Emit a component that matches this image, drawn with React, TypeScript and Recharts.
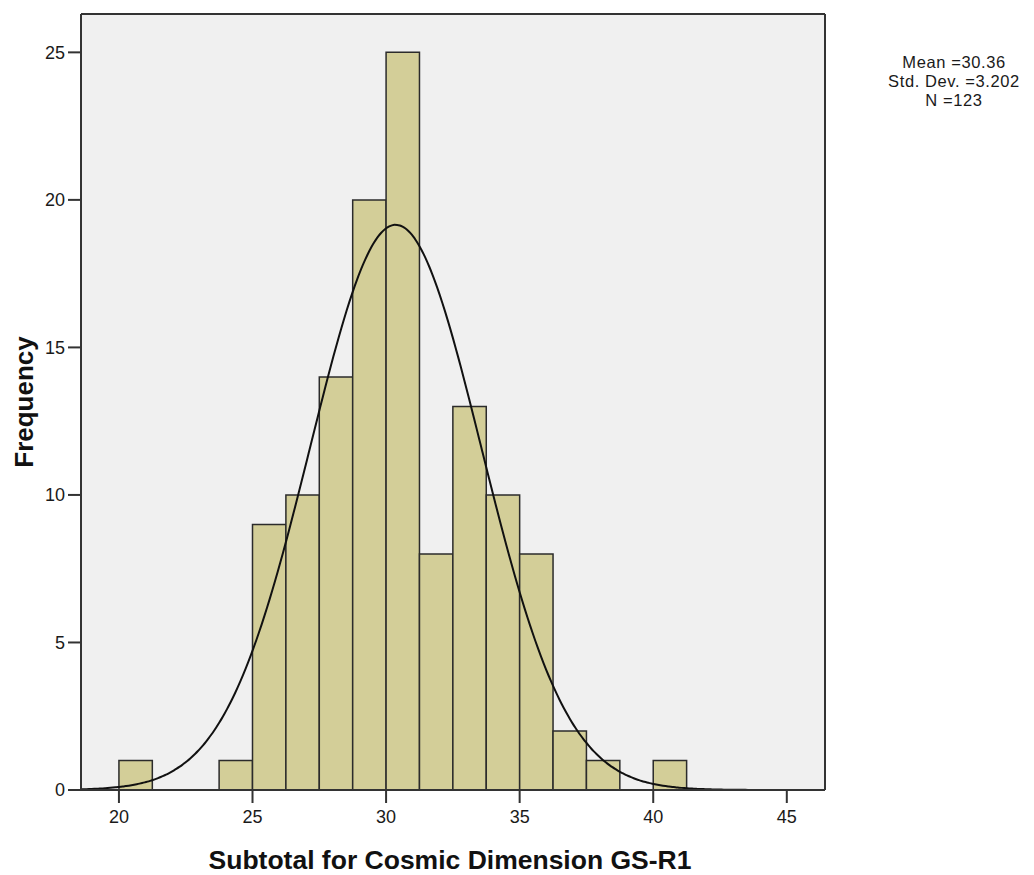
import React from 'react';
import { ComposedChart, Line, XAxis, YAxis, CartesianGrid, ReferenceArea, ReferenceLine } from 'recharts';

// Histogram bins: lower edge of each non-empty bin and its count
const binStarts = [20, 23.75, 25, 26.25, 27.5, 28.75, 30, 31.25, 32.5, 33.75, 35, 36.25, 37.5, 40];
const binCounts = [1, 1, 9, 10, 14, 20, 25, 8, 13, 10, 8, 2, 1, 1];
const BIN_WIDTH = 1.25;

// Axis ticks
const xTicks = [20, 25, 30, 35, 40, 45];
const yTicks = [0, 5, 10, 15, 20, 25];

// Summary statistics shown in the legend (also define the fitted normal curve)
const MEAN = 30.36;
const STD_DEV = 3.202;
const N = 123;

const X_DOMAIN: [number, number] = [18.58, 46.43];
const Y_DOMAIN: [number, number] = [0, 26.3];

const FONT = '"Liberation Sans", Arial, sans-serif';
const FRAME = '#333333';

// Normal density scaled to counts per bin, sampled across the x range
const curveData: { x: number; y: number }[] = [];
for (let i = 0; i <= 280; i++) {
  const x = X_DOMAIN[0] + ((X_DOMAIN[1] - X_DOMAIN[0]) * i) / 280;
  const z = (x - MEAN) / STD_DEV;
  const y = (N * BIN_WIDTH * Math.exp(-0.5 * z * z)) / (STD_DEV * Math.sqrt(2 * Math.PI));
  curveData.push({ x, y });
}

export default function App() {
  return (
    <div style={{ position: 'absolute', left: 0, top: 0, width: 1034, height: 875, background: '#ffffff' }}>
      <ComposedChart
        width={1034}
        height={875}
        data={curveData}
        margin={{ top: 14, right: 209, bottom: 45, left: 0 }}
      >
        <CartesianGrid fill="#F0F0F0" horizontal={false} vertical={false} />
        <XAxis
          dataKey="x"
          type="number"
          domain={X_DOMAIN}
          ticks={xTicks}
          allowDataOverflow
          height={40}
          tickSize={13}
          tickMargin={7}
          axisLine={{ stroke: FRAME, strokeWidth: 2 }}
          tickLine={{ stroke: FRAME, strokeWidth: 2 }}
          tick={{ fill: '#1a1a1a', fontSize: 18, fontFamily: FONT }}
          label={{
            value: 'Subtotal for Cosmic Dimension GS-R1',
            position: 'bottom',
            offset: 20,
            dx: -3,
            style: { fontSize: 26.5, fontWeight: 700, fontFamily: FONT, fill: '#111' },
          }}
        />
        <YAxis
          type="number"
          domain={Y_DOMAIN}
          ticks={yTicks}
          allowDataOverflow
          width={81}
          tickSize={13}
          tickMargin={3}
          axisLine={{ stroke: FRAME, strokeWidth: 2 }}
          tickLine={{ stroke: FRAME, strokeWidth: 2 }}
          tick={{ fill: '#1a1a1a', fontSize: 18, fontFamily: FONT }}
          label={{
            value: 'Frequency',
            angle: -90,
            position: 'insideLeft',
            offset: 24,
            style: { textAnchor: 'middle', fontSize: 26, fontWeight: 700, fontFamily: FONT, fill: '#111' },
          }}
        />
        {/* top and right edges of the plot frame */}
        <ReferenceLine y={Y_DOMAIN[1]} stroke={FRAME} strokeWidth={2} ifOverflow="visible" />
        <ReferenceLine x={X_DOMAIN[1]} stroke={FRAME} strokeWidth={2} ifOverflow="visible" />
        {binStarts.map((start, i) => (
          <ReferenceArea
            key={start}
            x1={start}
            x2={start + BIN_WIDTH}
            y1={0}
            y2={binCounts[i]}
            fill="#D3CE98"
            fillOpacity={1}
            stroke="#2b2b2b"
            strokeWidth={1.5}
            ifOverflow="visible"
          />
        ))}
        <Line
          dataKey="y"
          type="monotone"
          dot={false}
          activeDot={false}
          stroke="#111111"
          strokeWidth={2}
          isAnimationActive={false}
        />
      </ComposedChart>
      <div
        style={{
          position: 'absolute',
          left: 854,
          top: 53,
          width: 200,
          textAlign: 'center',
          fontFamily: FONT,
          fontSize: 16.5,
          lineHeight: '19px',
          letterSpacing: 0.6,
          color: '#1a1a1a',
        }}
      >
        <div>Mean ={MEAN.toFixed(2)}</div>
        <div>Std. Dev. ={STD_DEV.toFixed(3)}</div>
        <div>N ={N}</div>
      </div>
    </div>
  );
}
